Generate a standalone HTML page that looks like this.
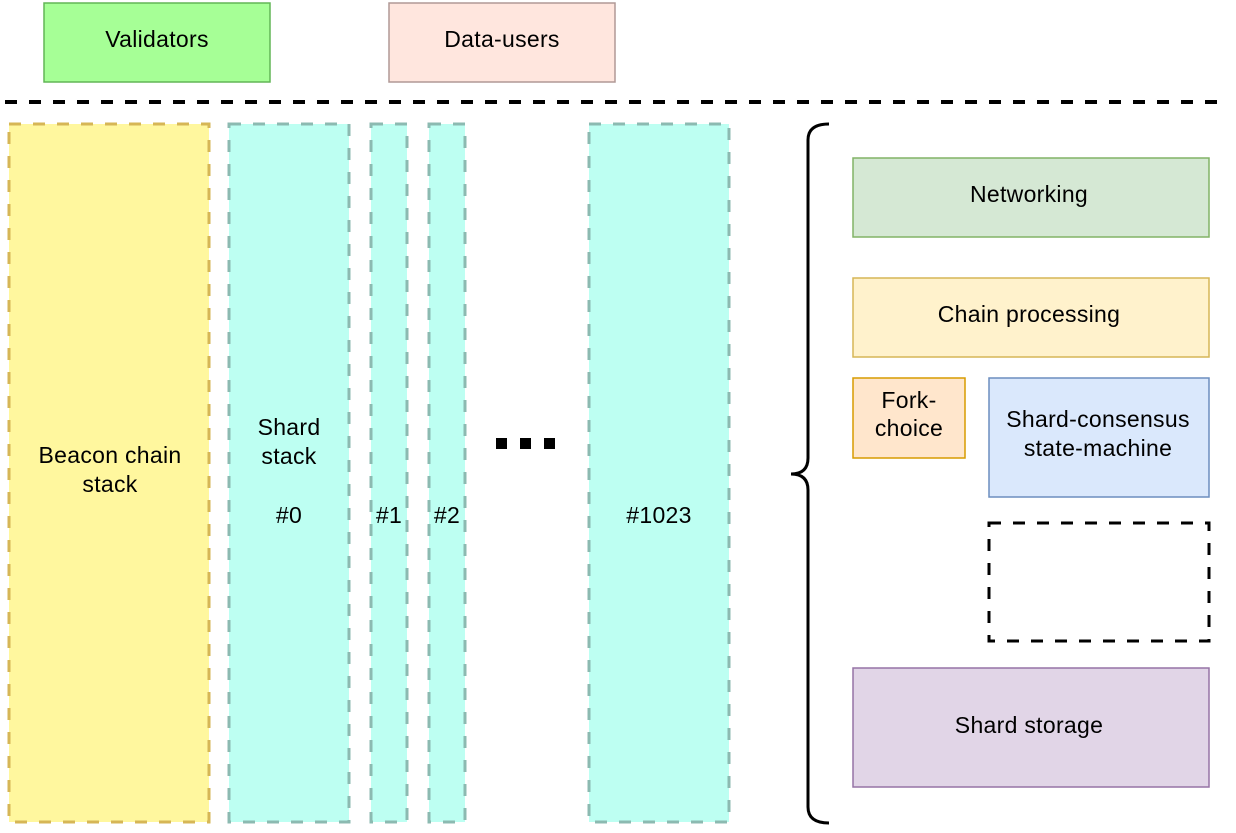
<!DOCTYPE html>
<html><head><meta charset="utf-8"><style>
html,body{margin:0;padding:0;background:#fff;}
svg text{font-family:"Liberation Sans",Arial,sans-serif;font-size:23px;letter-spacing:0.3px;fill:#000;}
</style></head><body>
<svg width="1236" height="828" viewBox="0 0 1236 828" xmlns="http://www.w3.org/2000/svg">
<rect x="44" y="3" width="226" height="79" fill="#a6ff96" stroke="#62b556" stroke-width="1.5"/>
<text x="157" y="47" text-anchor="middle">Validators</text>
<rect x="389" y="3" width="226" height="79" fill="#ffe6de" stroke="#b09996" stroke-width="1.5"/>
<text x="502" y="47" text-anchor="middle">Data-users</text>
<line x1="5" y1="102" x2="1220" y2="102" stroke="#000" stroke-width="4" stroke-dasharray="12,12"/>
<rect x="9" y="124" width="200" height="698" fill="#fff79e" stroke="#d6b656" stroke-width="3" stroke-dasharray="12,12"/>
<text x="110" y="463" text-anchor="middle">Beacon chain</text>
<text x="110" y="492" text-anchor="middle">stack</text>
<g fill="#bdfff2" stroke="#8cbab1" stroke-width="3" stroke-dasharray="12,12">
<rect x="229" y="124" width="120" height="698"/>
<rect x="371" y="124" width="36" height="698"/>
<rect x="429" y="124" width="36" height="698"/>
<rect x="589" y="124" width="140" height="698"/>
</g>
<text x="289" y="435" text-anchor="middle">Shard</text>
<text x="289" y="464" text-anchor="middle">stack</text>
<text x="289" y="523" text-anchor="middle">#0</text>
<text x="389" y="523" text-anchor="middle">#1</text>
<text x="447" y="523" text-anchor="middle">#2</text>
<text x="659" y="523" text-anchor="middle">#1023</text>
<rect x="496" y="438" width="11" height="11" fill="#000"/>
<rect x="520" y="438" width="11" height="11" fill="#000"/>
<rect x="544" y="438" width="11" height="11" fill="#000"/>
<path d="M829 124 Q808 124 808 140 L808 458 Q808 474 791 474 Q808 474 808 490 L808 807 Q808 823 829 823" fill="none" stroke="#000" stroke-width="3"/>
<rect x="853" y="158" width="356" height="79" fill="#d5e8d4" stroke="#82b366" stroke-width="1.5"/>
<text x="1029" y="202" text-anchor="middle">Networking</text>
<rect x="853" y="278" width="356" height="79" fill="#fff2cc" stroke="#d6b656" stroke-width="1.5"/>
<text x="1029" y="322" text-anchor="middle">Chain processing</text>
<rect x="853" y="378" width="112" height="80" fill="#ffe6cc" stroke="#d79b00" stroke-width="1.5"/>
<text x="909" y="408" text-anchor="middle">Fork-</text>
<text x="909" y="436" text-anchor="middle">choice</text>
<rect x="989" y="378" width="220" height="119" fill="#dae8fc" stroke="#6c8ebf" stroke-width="1.5"/>
<text x="1098" y="427" text-anchor="middle">Shard-consensus</text>
<text x="1098" y="456" text-anchor="middle">state-machine</text>
<rect x="989" y="523" width="220" height="118" fill="none" stroke="#000" stroke-width="3" stroke-dasharray="12,12"/>
<rect x="853" y="668" width="356" height="119" fill="#e1d5e7" stroke="#9673a6" stroke-width="1.5"/>
<text x="1029" y="733" text-anchor="middle">Shard storage</text>
</svg>
</body></html>
